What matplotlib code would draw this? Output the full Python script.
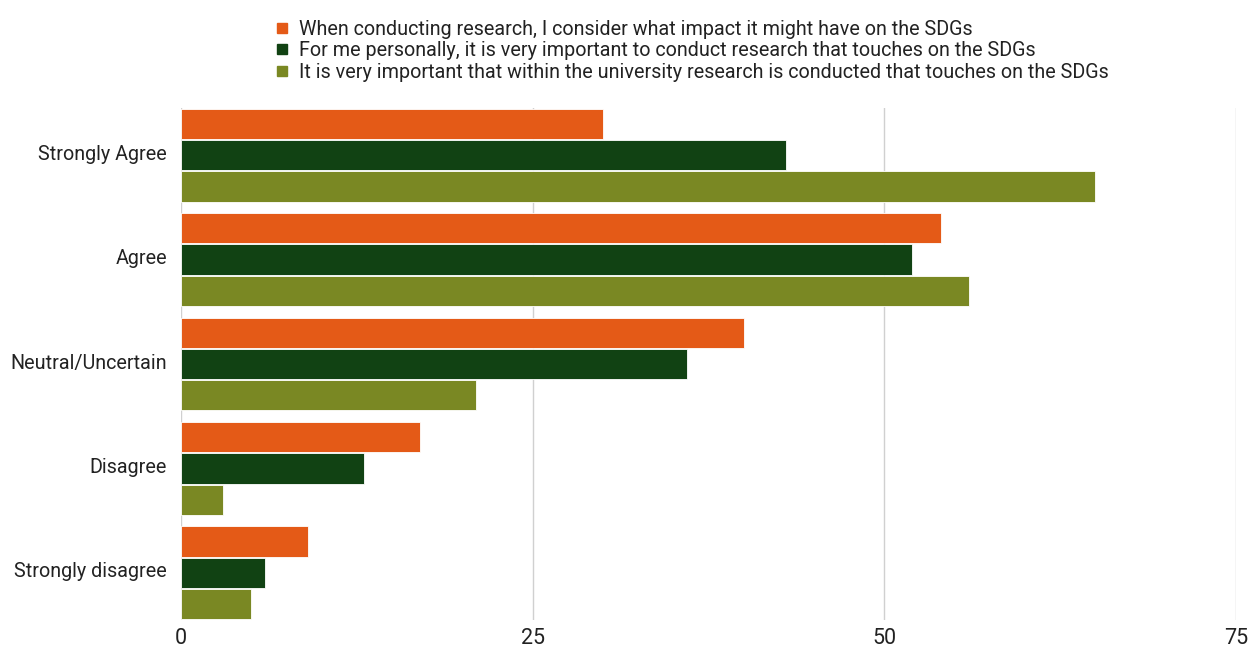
import numpy as np
import matplotlib.pyplot as plt
from matplotlib.lines import Line2D
from matplotlib.transforms import ScaledTranslation

categories = ["Strongly Agree", "Agree", "Neutral/Uncertain", "Disagree", "Strongly disagree"]
series_names = [
    "When conducting research, I consider what impact it might have on the SDGs",
    "For me personally, it is very important to conduct research that touches on the SDGs",
    "It is very important that within the university research is conducted that touches on the SDGs",
]
consider_impact = [30, 54, 40, 17, 9]
personally_important = [43, 52, 36, 13, 6]
university_important = [65, 56, 21, 3, 5]
x_ticks = [0, 25, 50, 75]

colors = ["#E45A17", "#114213", "#7A8823"]

plt.rcParams['font.family'] = ['Roboto', 'DejaVu Sans']

fig = plt.figure(figsize=(12.49, 6.48), dpi=100)
ax = fig.add_axes([181 / 1249, 28 / 648, 1055 / 1249, 512 / 648])

y = np.arange(len(categories))
h = 0.29
offsets = [-0.3, 0.0, 0.3]
for vals, off, col in zip([consider_impact, personally_important, university_important], offsets, colors):
    ax.barh(y + off, vals, height=h, color=col, edgecolor="white", linewidth=0.6, zorder=3)

ax.set_xlim(0, 75)
ax.set_ylim(len(categories) - 0.55, -0.45)
ax.set_yticks(y)
ax.set_yticklabels(categories, fontsize=14.2, color="#222222")
ax.set_xticks(x_ticks)
ax.set_xticklabels([str(t) for t in x_ticks], fontsize=15.5, color="#222222")
ax.tick_params(axis="y", length=0, pad=10)
ax.tick_params(axis="x", length=0, pad=6)
ax.grid(axis="x", color="#d0d0d0", linewidth=1, zorder=0)
for s in ax.spines.values():
    s.set_visible(False)

# nudge category labels up a little
lift = ScaledTranslation(0, 3 / 100, fig.dpi_scale_trans)
for lbl in ax.get_yticklabels():
    lbl.set_transform(lbl.get_transform() + lift)

handles = [Line2D([], [], marker="s", linestyle="", markersize=7, color=c) for c in colors]
fig.legend(handles, series_names, loc="upper left", bbox_to_anchor=(272 / 1249, 1 - 20 / 648),
           frameon=False, fontsize=14.2, handletextpad=0.35, labelspacing=0.12,
           handlelength=1.0, borderaxespad=0, borderpad=0, labelcolor="#222222")

fig.savefig("out.png", dpi=100)
